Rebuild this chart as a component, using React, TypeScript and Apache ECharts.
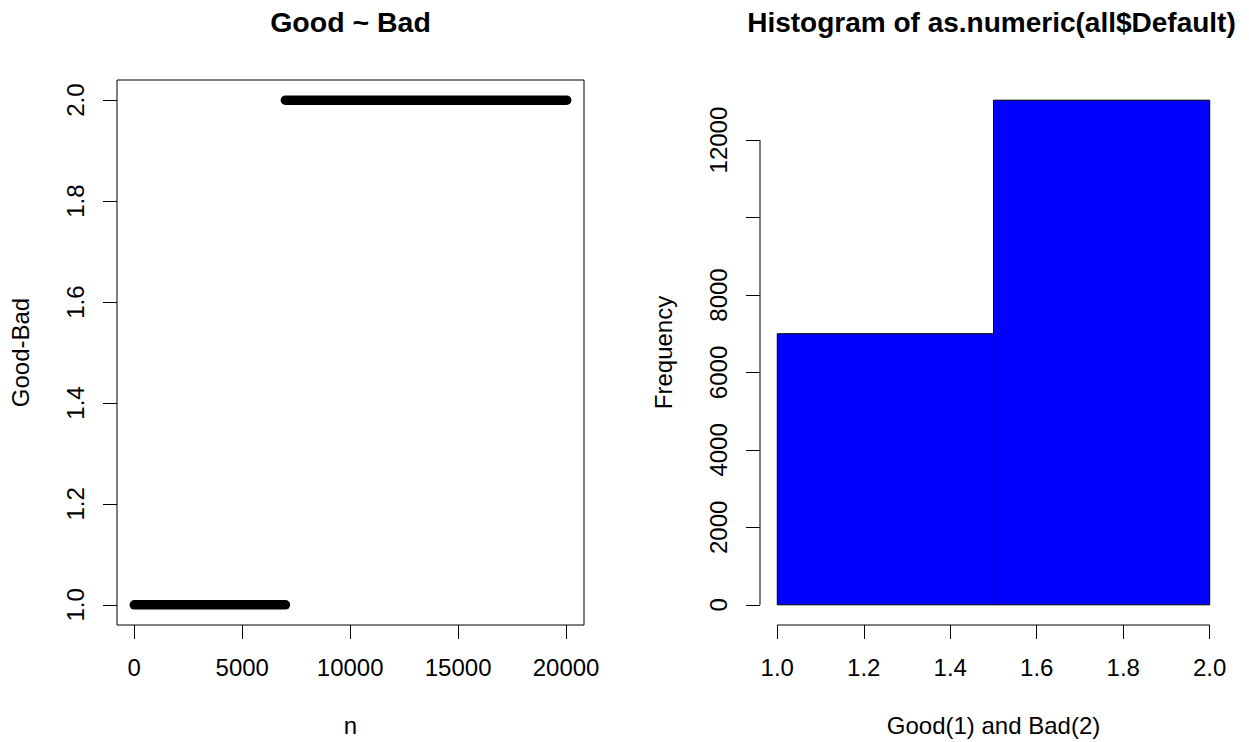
import React, { useEffect, useRef } from "react";
import * as echarts from "echarts";

// ---- data ----
const goodCount = 7000; // observations with Default = 1 (Good)
const badCount = 13030; // observations with Default = 2 (Bad)
const groupValues = [1, 2];
const histBreaks = [1.0, 1.5, 2.0];
const histCounts = [7000, 13030];
const leftXTicks = [0, 5000, 10000, 15000, 20000];
const leftYTicks = [1.0, 1.2, 1.4, 1.6, 1.8, 2.0];
const rightXTicks = [1.0, 1.2, 1.4, 1.6, 1.8, 2.0];
const rightYTicks = [0, 2000, 4000, 6000, 8000, 10000, 12000];
const rightYLabels = [0, 2000, 4000, 6000, 8000, 12000];

const FONT = "'Liberation Sans', Arial, sans-serif";
const FS = 24;

function ext(min: number, max: number): [number, number] {
  const d = (max - min) * 0.04;
  return [min - d, max + d];
}

export default function App() {
  const ref = useRef<HTMLDivElement>(null);
  useEffect(() => {
    document.body.style.margin = "0";
    document.body.style.overflow = "hidden";
    if (!ref.current) return;
    const chart = echarts.init(ref.current, undefined, { renderer: "svg" });

    const nMax = goodCount + badCount;
    const [lxMin, lxMax] = ext(1, nMax);
    const [lyMin, lyMax] = ext(groupValues[0], groupValues[1]);
    const [rxMin, rxMax] = ext(histBreaks[0], histBreaks[histBreaks.length - 1]);
    const [ryMin, ryMax] = ext(0, Math.max(...histCounts));

    const goodSeg = [
      [1, groupValues[0]],
      [goodCount, groupValues[0]],
    ];
    const badSeg = [
      [goodCount + 1, groupValues[1]],
      [nMax, groupValues[1]],
    ];
    const histData = histCounts.map((c, i) => [histBreaks[i], histBreaks[i + 1], c]);

    const labelStyle = { fontFamily: FONT, fontSize: FS, color: "#000" };
    const tick = { show: true, length: 14, lineStyle: { color: "#000", width: 1 } };
    const noLine = { show: false, onZero: false };

    chart.setOption({
      animation: false,
      backgroundColor: "#fff",
      grid: [
        { left: 117, top: 80, width: 467, height: 548, show: true, borderColor: "#000", borderWidth: 1, backgroundColor: "transparent" },
        { left: 760, top: 80, width: 467, height: 548, show: false },
      ],
      xAxis: [
        {
          gridIndex: 0, type: "value", min: lxMin, max: lxMax,
          splitLine: { show: false }, axisLine: noLine,
          axisTick: { ...tick, customValues: leftXTicks },
          axisLabel: { ...labelStyle, margin: 30, customValues: leftXTicks, formatter: (v: number) => String(v) },
          name: "n", nameLocation: "middle", nameGap: 88,
          nameTextStyle: labelStyle,
        },
        {
          gridIndex: 1, type: "value", min: rxMin, max: rxMax,
          splitLine: { show: false }, axisLine: noLine,
          axisTick: { ...tick, customValues: rightXTicks },
          axisLabel: { ...labelStyle, margin: 30, customValues: rightXTicks, formatter: (v: number) => v.toFixed(1) },
          name: "Good(1) and Bad(2)", nameLocation: "middle", nameGap: 88,
          nameTextStyle: labelStyle,
        },
      ],
      yAxis: [
        {
          gridIndex: 0, type: "value", min: lyMin, max: lyMax,
          splitLine: { show: false }, axisLine: noLine,
          axisTick: { ...tick, customValues: leftYTicks },
          axisLabel: { ...labelStyle, rotate: 90, margin: 30, customValues: leftYTicks, formatter: (v: number) => v.toFixed(1) },
          name: "Good-Bad", nameLocation: "middle", nameGap: 85,
          nameTextStyle: labelStyle,
        },
        {
          gridIndex: 1, type: "value", min: ryMin, max: ryMax,
          splitLine: { show: false }, axisLine: noLine,
          axisTick: { ...tick, customValues: rightYTicks },
          axisLabel: { ...labelStyle, rotate: 90, margin: 30, customValues: rightYLabels, formatter: (v: number) => String(v) },
          name: "Frequency", nameLocation: "middle", nameGap: 85,
          nameTextStyle: labelStyle,
        },
      ],
      series: [
        {
          type: "line", xAxisIndex: 0, yAxisIndex: 0, data: goodSeg, symbol: "none",
          lineStyle: { color: "#000", width: 9.5, cap: "round" },
        },
        {
          type: "line", xAxisIndex: 0, yAxisIndex: 0, data: badSeg, symbol: "none",
          lineStyle: { color: "#000", width: 9.5, cap: "round" },
        },
        {
          type: "custom", xAxisIndex: 1, yAxisIndex: 1, data: histData,
          encode: { x: [0, 1], y: 2 },
          renderItem: (params: any, api: any) => {
            const p0 = api.coord([api.value(0), 0]);
            const p1 = api.coord([api.value(1), api.value(2)]);
            return {
              type: "rect",
              shape: { x: p0[0], y: p1[1], width: p1[0] - p0[0], height: p0[1] - p1[1] },
              style: { fill: "#0000ff", stroke: "#000", lineWidth: 1 },
            };
          },
        },
      ],
    });

    // R-style partial axis lines for the histogram (from first to last tick)
    const px = (xi: number, v: number[]) =>
      chart.convertToPixel({ xAxisIndex: xi, yAxisIndex: xi }, v) as number[];
    const fy = px(1, [rxMin, rightYTicks[0]]);
    const ly = px(1, [rxMin, rightYTicks[rightYTicks.length - 1]]);
    const fx = px(1, [rightXTicks[0], ryMin]);
    const lx = px(1, [rightXTicks[rightXTicks.length - 1], ryMin]);
    const lTopL = px(0, [lxMin, lyMax]);
    const lTopR = px(0, [lxMax, lyMax]);
    const rTopL = px(1, [rxMin, ryMax]);
    const rTopR = px(1, [rxMax, ryMax]);

    chart.setOption({
      graphic: [
        {
          type: "line", shape: { x1: fy[0], y1: fy[1], x2: ly[0], y2: ly[1] },
          style: { stroke: "#000", lineWidth: 1 }, z: 10,
        },
        {
          type: "line", shape: { x1: fx[0], y1: fx[1], x2: lx[0], y2: lx[1] },
          style: { stroke: "#000", lineWidth: 1 }, z: 10,
        },
        {
          type: "text", x: (lTopL[0] + lTopR[0]) / 2, y: 36,
          style: { text: "Good ~ Bad", fontFamily: FONT, fontSize: 28.5, fontWeight: "bold", fill: "#000", align: "center", verticalAlign: "bottom" },
        },
        {
          type: "text", x: (rTopL[0] + rTopR[0]) / 2 - 2, y: 36,
          style: { text: "Histogram of as.numeric(all$Default)", fontFamily: FONT, fontSize: 28, fontWeight: "bold", fill: "#000", align: "center", verticalAlign: "bottom" },
        },
      ],
    });

    return () => chart.dispose();
  }, []);
  return <div ref={ref} style={{ width: 1249, height: 742 }} />;
}
